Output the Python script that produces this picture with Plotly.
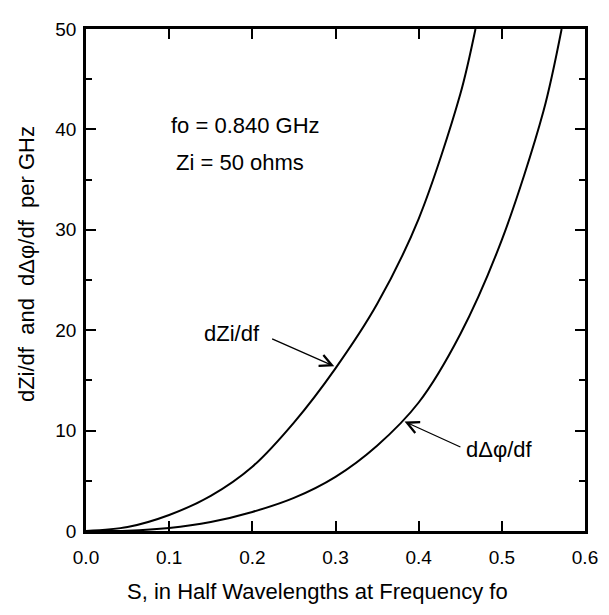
import plotly.graph_objects as go

# Data
s_zi = [0.0, 0.05, 0.1, 0.15, 0.2, 0.25, 0.3, 0.35, 0.4, 0.45, 0.4683]
dzi_df = [0.0, 0.4, 1.6, 3.5, 6.4, 10.8, 16.2, 22.6, 31.1, 43.5, 50.0]

s_ph = [0.0, 0.05, 0.1, 0.15, 0.2, 0.25, 0.3, 0.35, 0.4, 0.45, 0.5, 0.55, 0.5719]
dphi_df = [0.0, 0.03, 0.3, 0.9, 1.9, 3.3, 5.4, 8.5, 12.8, 19.6, 29.0, 41.8, 50.0]

x_ticks = [0.0, 0.1, 0.2, 0.3, 0.4, 0.5, 0.6]
x_tick_labels = ["0.0", "0.1", "0.2", "0.3", "0.4", "0.5", "0.6"]
y_ticks = [0, 10, 20, 30, 40, 50]

FONT = "Liberation Sans, Arial, Helvetica, sans-serif"
NB = "\u00a0"
TXT = 22

fig = go.Figure()
for xs, ys in ((s_zi, dzi_df), (s_ph, dphi_df)):
    fig.add_trace(go.Scatter(x=xs, y=ys, mode="lines",
                             line=dict(color="black", width=2, shape="spline", smoothing=0.9),
                             showlegend=False, hoverinfo="skip"))

axis_common = dict(showgrid=False, zeroline=False, showline=True, linecolor="black",
                   linewidth=2.5, mirror="ticks", ticks="inside", tickcolor="black",
                   tickwidth=2, ticklen=10, ticklabeloverflow="allow",
                   tickfont=dict(family=FONT, size=19, color="black"))

fig.update_xaxes(range=[0, 0.6], tickvals=x_ticks, ticktext=x_tick_labels,
                 ticklabelstandoff=7, **axis_common)
fig.update_yaxes(range=[0, 50], tickvals=y_ticks, ticklabelstandoff=3,
                 minor=dict(dtick=5, ticks="inside", ticklen=6, tickwidth=2, tickcolor="black"),
                 **axis_common)

def txt(x, y, s, **kw):
    d = dict(x=x, y=y, xref="x", yref="y", text=s, showarrow=False,
             xanchor="left", yanchor="middle", font=dict(family=FONT, size=TXT, color="black"))
    d.update(kw)
    return d

annos = [
    txt(0.1, 40.4, "fo = 0.840 GHz"),
    txt(0.106, 36.7, "Zi = 50 ohms"),
    txt(0.139, 19.7, "dZi/df"),
    txt(0.455, 8.1, "dΔφ/df"),
    # arrows
    dict(x=0.2985, y=16.4, ax=0.222, ay=19.2, xref="x", yref="y", axref="x", ayref="y",
         text="", showarrow=True, arrowhead=5, arrowsize=1.8, arrowwidth=1.3, arrowcolor="black"),
    dict(x=0.383, y=10.9, ax=0.452, ay=8.3, xref="x", yref="y", axref="x", ayref="y",
         text="", showarrow=True, arrowhead=5, arrowsize=1.8, arrowwidth=1.3, arrowcolor="black"),
    # axis titles
    dict(x=0.464, y=-0.121, xref="paper", yref="paper",
         text="S, in Half Wavelengths at Frequency fo", showarrow=False,
         xanchor="center", yanchor="middle", font=dict(family=FONT, size=TXT, color="black")),
    dict(x=-0.119, y=0.531, xref="paper", yref="paper",
         text="dZi/df" + NB * 2 + "and" + NB * 2 + "dΔφ/df" + NB * 2 + "per GHz",
         showarrow=False, textangle=-90,
         xanchor="center", yanchor="middle", font=dict(family=FONT, size=TXT, color="black")),
]

# The page body has an 8px default margin; the figure is sized to fit the
# window without scrollbars and margins place the plot area at x 86..593, y 19..531.
fig.update_layout(
    width=601, height=599,
    margin=dict(l=78, r=16, t=11, b=76),
    paper_bgcolor="white", plot_bgcolor="white",
    annotations=annos,
    font=dict(family=FONT, color="black"),
)

fig.write_html("out.html")
